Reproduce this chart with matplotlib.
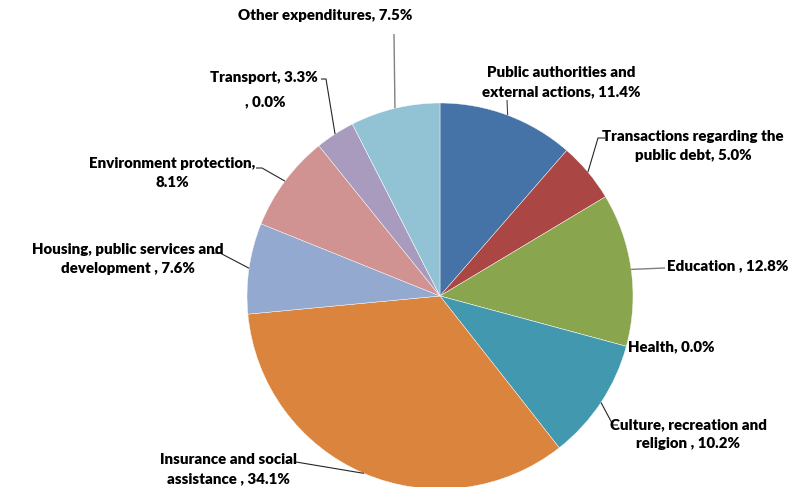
import numpy as np
import matplotlib
matplotlib.use("Agg")
import matplotlib.pyplot as plt

# ── 数据 ──────────────────────────────────────────────────────────────────────
categories = [
    "Public authorities and\nexternal actions",
    "Transactions regarding the\npublic debt",
    "Education ",
    "Health",
    "Culture, recreation and\nreligion ",
    "Insurance and social\nassistance ",
    "Housing, public services and\ndevelopment ",
    "Environment protection,\n",
    "Transport",
    "",
    "Other expenditures",
]
shares = [11.4, 5.0, 12.8, 0.0, 10.2, 34.1, 7.6, 8.1, 3.3, 0.0, 7.5]
colors = ["#4572A7", "#AA4643", "#89A54E", "#80699B", "#4198AF", "#DB843D",
          "#93A9CF", "#D19392", "#A99BBD", "#B5CA92", "#92C3D4"]

W, H = 796, 487
CX, CY, R = 440, 296, 193  # 像素坐标（左上为原点）

plt.rcParams["font.family"] = ["Lato", "DejaVu Sans"]

fig = plt.figure(figsize=(W / 100, H / 100), dpi=100)
ax = fig.add_axes([0, 0, 1, 1])

ax.pie(shares, colors=colors, center=(CX, H - CY), radius=R,
       startangle=90, counterclock=False,
       wedgeprops=dict(linewidth=0.3, edgecolor="white"))

# pie() 会重设坐标范围，之后再固定为像素坐标
ax.set_xlim(0, W)
ax.set_ylim(0, H)
ax.set_aspect("equal")
ax.axis("off")


def fy(y):
    return H - y


def anchor(i, frac=1.0):
    """扇区中线与圆周交点（顺时针，自顶部起算）"""
    total = sum(shares)
    start = sum(shares[:i]) / total * 360
    mid = np.deg2rad(start + shares[i] / total * 360 / 2)
    return CX + R * frac * np.sin(mid), CY - R * frac * np.cos(mid)


# label: (text x, text y, ha, leader path in pixel coords excluding anchor)
labels = {
    0: (561, 82, "center", [(507, 100)], "#404040"),
    1: (693, 146, "center", [(598, 138), (605, 138)], "#262626"),
    2: (667, 266, "left", [(665, 268)], "#808080"),
    3: (628, 347, "left", None, None),
    4: (688, 434, "center", [(613, 425), (618, 425)], "#262626"),
    5: (228, 469, "center", [(296, 462)], "#262626"),
    6: (128, 259, "center", [(220, 253), (213, 253)], "#262626"),
    7: (172, 173, "center", [(262, 168), (256, 168)], "#262626"),
    8: (318, 77, "right", [(326, 79), (321, 79)], "#262626"),
    9: (265, 102, "center", None, None),
    10: (325, 15, "center", [(394, 34)], "#808080"),
}

for i, (tx, ty, ha, path, lc) in labels.items():
    name = categories[i]
    if name.endswith("\n"):
        txt = f"{name}{shares[i]:.1f}%"
    else:
        txt = f"{name}, {shares[i]:.1f}%"
    ax.text(tx, fy(ty), txt, ha=ha, va="center", fontsize=10.8,
            fontweight="heavy", color="#000000", linespacing=1.55)
    if path:
        ax0, ay0 = anchor(i)
        pts = [(ax0, ay0)] + path
        xs = [p[0] for p in pts]
        ys = [fy(p[1]) for p in pts]
        ax.plot(xs, ys, color=lc, lw=1.0 if lc == "#808080" else 0.8,
                solid_capstyle="butt")

fig.savefig("out.png", dpi=100, facecolor="white")
